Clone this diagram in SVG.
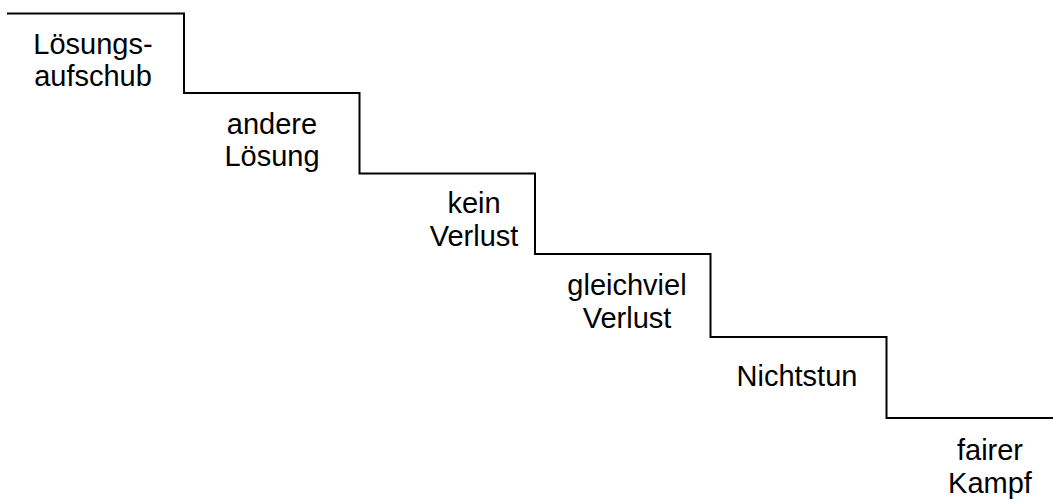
<svg xmlns="http://www.w3.org/2000/svg" width="1053" height="499" viewBox="0 0 1053 499">
  <style>
    .lbl { font-family: "Liberation Sans", Arial, sans-serif; font-size: 29px; fill: #000; text-anchor: middle; }
    .stair { fill: none; stroke: #000; stroke-width: 2; }
  </style>
  <rect width="1053" height="499" fill="#fff"/>
  <g id="connectors">
    <path class="stair" d="M7,13.5 H184 V93 H359.5 V173.5 H535 V254 H710.5 V337 H886.5 V418 H1053"/>
  </g>
  <g id="n1">
    <text class="lbl" x="93" y="54">Lösungs-</text>
    <text class="lbl" x="93" y="86">aufschub</text>
  </g>
  <g id="n2">
    <text class="lbl" x="272" y="134">andere</text>
    <text class="lbl" x="272" y="166">Lösung</text>
  </g>
  <g id="n3">
    <text class="lbl" x="474" y="213">kein</text>
    <text class="lbl" x="474" y="246">Verlust</text>
  </g>
  <g id="n4">
    <text class="lbl" x="627" y="295">gleichviel</text>
    <text class="lbl" x="627" y="328">Verlust</text>
  </g>
  <g id="n5">
    <text class="lbl" x="797" y="386">Nichtstun</text>
  </g>
  <g id="n6">
    <text class="lbl" x="990" y="460">fairer</text>
    <text class="lbl" x="990" y="493">Kampf</text>
  </g>
</svg>
